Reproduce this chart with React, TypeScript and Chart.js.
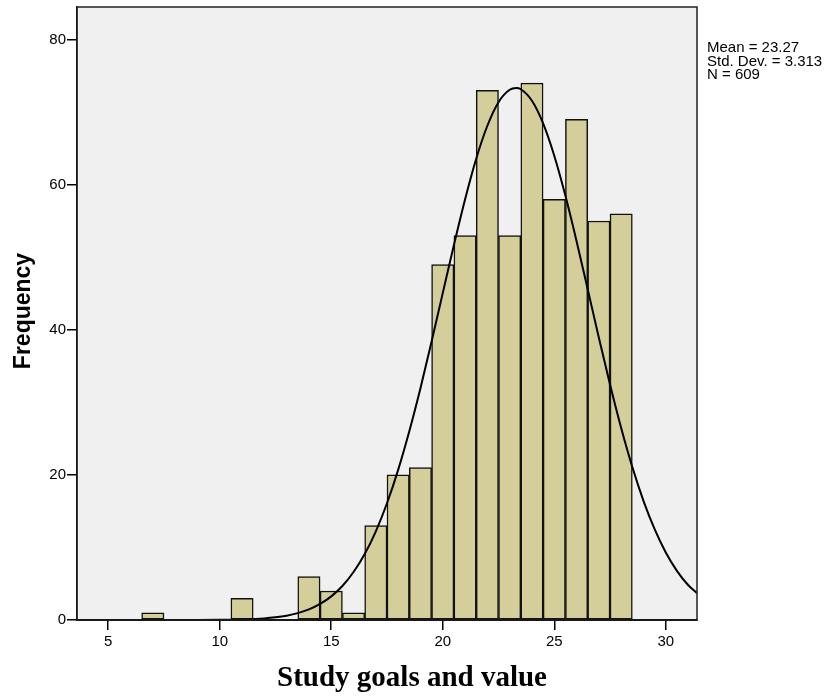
import { useEffect, useRef } from 'react';
import { Chart, registerables } from 'chart.js';

Chart.register(...registerables);

// Histogram bins (centre of each bin) and their frequencies
const binCenters = [7, 11, 14, 15, 16, 17, 18, 19, 20, 21, 22, 23, 24, 25, 26, 27, 28];
const frequencies = [1, 3, 6, 4, 1, 13, 20, 21, 49, 53, 73, 53, 74, 58, 69, 55, 56];

// Normal curve
const curveX = [3.6, 6, 9, 10, 11, 12, 12.5, 13, 13.5, 14, 14.5, 15, 15.5, 16, 16.5, 17, 17.5, 18, 18.5, 19, 19.5, 20, 20.5, 21, 21.5, 22, 22.5, 23, 23.3, 23.5, 24, 24.5, 25, 25.5, 26, 26.5, 27, 27.5, 28, 28.5, 29, 29.5, 30, 30.5, 31, 31.4];
const curveY = [0, 0, 0, 0.02, 0.08, 0.22, 0.37, 0.6, 0.95, 1.46, 2.21, 3.26, 4.69, 6.61, 9.09, 12.23, 16.09, 20.7, 26.02, 31.95, 38.38, 45.06, 51.7, 57.98, 63.58, 68.13, 71.38, 73.09, 73.33, 73.16, 71.57, 68.45, 63.99, 58.47, 52.22, 45.59, 38.91, 32.46, 26.47, 21.09, 16.43, 12.52, 9.31, 6.78, 4.82, 3.7];

const xTicks = [5, 10, 15, 20, 25, 30];
const yTicks = [0, 20, 40, 60, 80];
const xRange = [3.6, 31.4];
const yRange = [0, 84.5];

const statsLines = ['Mean = 23.27', 'Std. Dev. = 3.313', 'N = 609'];
const xTitle = 'Study goals and value';
const yTitle = 'Frequency';

const SANS = "'Liberation Sans', Arial, sans-serif";
const SERIF = "'Liberation Serif', 'Times New Roman', serif";

const decorPlugin = {
  id: 'decor',
  beforeDraw(chart: any) {
    const { ctx, chartArea } = chart;
    const { left, top, right, bottom } = chartArea;
    ctx.save();
    ctx.fillStyle = '#F0F0F0';
    ctx.fillRect(left, top, right - left, bottom - top);
    ctx.restore();
  },
  afterDraw(chart: any) {
    const { ctx, chartArea } = chart;
    const { left, top, right, bottom } = chartArea;
    ctx.save();
    ctx.strokeStyle = '#222';
    ctx.lineWidth = 1.5;
    ctx.strokeRect(left, top, right - left, bottom - top);

    // y title
    ctx.save();
    ctx.translate(24, 311);
    ctx.rotate(-Math.PI / 2);
    ctx.fillStyle = '#000';
    ctx.font = `bold 23px ${SANS}`;
    ctx.textAlign = 'center';
    ctx.textBaseline = 'middle';
    ctx.fillText(yTitle, 0, 0);
    ctx.restore();

    // x title
    ctx.fillStyle = '#000';
    ctx.font = `bold 29px ${SERIF}`;
    ctx.textAlign = 'center';
    ctx.textBaseline = 'alphabetic';
    ctx.fillText(xTitle, 412, 686);

    // stats
    ctx.font = `15px ${SANS}`;
    ctx.textAlign = 'left';
    statsLines.forEach((t, i) => ctx.fillText(t, right + 10, 52 + i * 13.5));
    ctx.restore();
  },
};

export default function App() {
  const ref = useRef<HTMLCanvasElement | null>(null);
  useEffect(() => {
    if (!ref.current) return;
    const chart = new Chart(ref.current, {
      type: 'bar',
      data: {
        datasets: [
          {
            type: 'line',
            data: curveX.map((x, i) => ({ x, y: curveY[i] })),
            borderColor: '#000',
            borderWidth: 2,
            pointRadius: 0,
            cubicInterpolationMode: 'monotone',
            fill: false,
            order: 0,
          } as any,
          {
            type: 'bar',
            data: binCenters.map((x, i) => ({ x, y: frequencies[i] })),
            backgroundColor: '#D3CE9A',
            borderColor: '#111',
            borderWidth: 1.5,
            borderSkipped: false,
            barPercentage: 1,
            categoryPercentage: 1,
            order: 1,
          } as any,
        ],
      },
      options: {
        animation: false,
        responsive: true,
        maintainAspectRatio: false,
        layout: { padding: { left: 0, top: 7, right: 143, bottom: 0 } },
        plugins: { legend: { display: false }, tooltip: { enabled: false } },
        scales: {
          x: {
            type: 'linear',
            min: xRange[0],
            max: xRange[1],
            offset: false,
            afterBuildTicks: (axis: any) => {
              axis.ticks = xTicks.map((v) => ({ value: v }));
            },
            afterFit: (s: any) => {
              s.height = 79;
              s.paddingLeft = 0;
              s.paddingRight = 0;
            },
            grid: { offset: false, drawOnChartArea: false, drawTicks: true, tickLength: 10, color: '#000', lineWidth: 1.5 },
            border: { display: true, color: '#000', width: 2 },
            ticks: { color: '#000', font: { family: SANS, size: 15 }, padding: 3, maxRotation: 0 },
          },
          y: {
            min: yRange[0],
            max: yRange[1],
            afterBuildTicks: (axis: any) => {
              axis.ticks = yTicks.map((v) => ({ value: v }));
            },
            afterFit: (s: any) => {
              s.width = 77;
              s.paddingTop = 0;
              s.paddingBottom = 0;
            },
            grid: { drawOnChartArea: false, drawTicks: true, tickLength: 10, color: '#000', lineWidth: 1.5 },
            border: { display: true, color: '#000', width: 1.5 },
            ticks: { color: '#000', font: { family: SANS, size: 15 }, padding: 1 },
          },
        },
      },
      plugins: [decorPlugin],
    });
    return () => chart.destroy();
  }, []);
  return (
    <div style={{ position: 'absolute', left: 0, top: 0, width: 840, height: 699 }}>
      <canvas ref={ref} />
    </div>
  );
}
